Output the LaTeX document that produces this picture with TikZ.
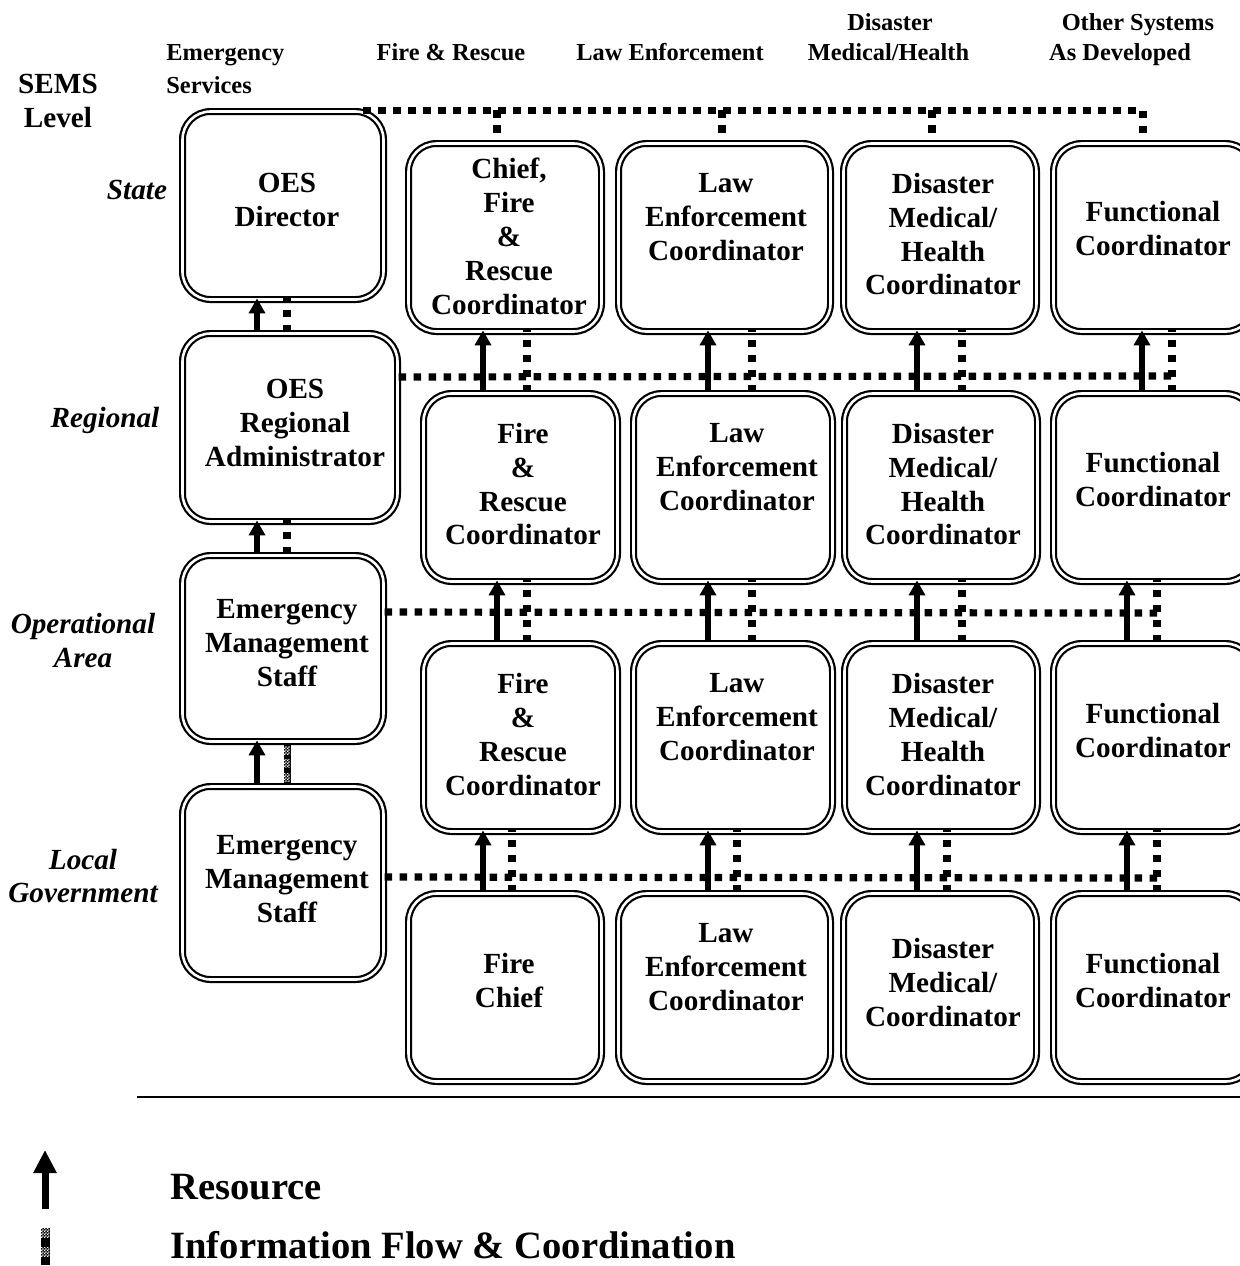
\documentclass[tikz,border=0pt]{standalone}
\usepackage{fontspec}
\setmainfont{Liberation Serif}
\usetikzlibrary{arrows.meta,calc,patterns}
\pgfdeclarepatternformonly{finechk}{\pgfpointorigin}{\pgfqpoint{1.6pt}{1.6pt}}{\pgfqpoint{1.6pt}{1.6pt}}{%
  \pgfpathrectangle{\pgfpointorigin}{\pgfqpoint{0.8pt}{0.8pt}}%
  \pgfpathrectangle{\pgfqpoint{0.8pt}{0.8pt}}{\pgfqpoint{0.8pt}{0.8pt}}%
  \pgfusepath{fill}}
\begin{document}
\begin{tikzpicture}[x=0.5pt,y=-0.5pt,
  bx/.style 2 args={draw, double, line width=1.1pt, double distance=1.3pt, rounded corners=14pt, inner sep=0pt, minimum width=#1, minimum height=#2},
  bt/.style={align=center, font=\fontsize{14.6}{17}\selectfont\bfseries, inner sep=0pt},
  hd/.style={anchor=base, font=\fontsize{12.2}{15}\selectfont\bfseries, inner sep=0pt},
  rl/.style={anchor=base, font=\fontsize{14.6}{17}\selectfont\bfseries\itshape, inner sep=0pt},
  lg/.style={anchor=west, font=\fontsize{19.3}{23}\selectfont\bfseries, inner sep=0pt},
  info/.style={line width=3.6pt, dash pattern=on 3.75pt off 3.75pt},
  res/.style={line width=2.75pt, -{Triangle[width=8pt,length=7.5pt]}},
  chk/.style={pattern=finechk, pattern color=white},
]
\clip (0,0) rectangle (1240,1266);
\fill[white] (0,0) rectangle (1240,1266);

% ---------- headers ----------
\node[hd, font=\fontsize{14.6}{17}\selectfont\bfseries] (h0a) at (58,93) {SEMS};
\node[hd, font=\fontsize{14.6}{17}\selectfont\bfseries] (h0b) at (58,127) {Level};
\node[hd, anchor=base west] (h1a) at (166,60) {Emergency};
\node[hd, anchor=base west] (h1b) at (166,93) {Services};
\node[hd] (h2) at (451,60) {Fire \& Rescue};
\node[hd] (h3) at (670,60) {Law Enforcement};
\node[hd] (h4a) at (890,30) {Disaster};
\node[hd] (h4b) at (888.5,60) {Medical/Health};
\node[hd] (h5a) at (1138,30) {Other Systems};
\node[hd] (h5b) at (1120,60) {As Developed};

% ---------- row labels ----------
\node[rl] (lbS) at (137,199.5) {State};
\node[rl] (lbR) at (105,427.5) {Regional};
\node[rl] (lbO1) at (83,633.5) {Operational};
\node[rl] (lbO2) at (83,667.5) {Area};
\node[rl] (lbL1) at (83,869.5) {Local};
\node[rl] (lbL2) at (83,902.5) {Government};

% ---------- boxes ----------
\node[bx={100.5pt}{94pt}] (d0) at (283,205.5) {};
\node[bx={107.5pt}{94pt}] (g0) at (290,427.5) {};
\node[bx={100.5pt}{93pt}] (o0) at (283,648.5) {};
\node[bx={100.5pt}{96.5pt}] (l0) at (283,883) {};

\node[bx={96.5pt}{94pt}] (s1) at (505,237.5) {};
\node[bx={106pt}{94pt}] (s2) at (724.5,237.5) {};
\node[bx={96.5pt}{94pt}] (s3) at (940,237.5) {};
\node[bx={100pt}{94pt}] (s4) at (1153.5,237.5) {};

\node[bx={97pt}{94pt}] (r1) at (520.5,487.5) {};
\node[bx={99.5pt}{94pt}] (r2) at (733,487.5) {};
\node[bx={96.5pt}{94pt}] (r3) at (941,487.5) {};
\node[bx={100pt}{94pt}] (r4) at (1153.5,487.5) {};

\node[bx={97pt}{94pt}] (p1) at (520.5,737.5) {};
\node[bx={99.5pt}{94pt}] (p2) at (733,737.5) {};
\node[bx={96.5pt}{94pt}] (p3) at (941,737.5) {};
\node[bx={100pt}{94pt}] (p4) at (1153.5,737.5) {};

\node[bx={96.5pt}{94pt}] (f1) at (505,987.5) {};
\node[bx={106pt}{94pt}] (f2) at (724.5,987.5) {};
\node[bx={96.5pt}{94pt}] (f3) at (940,987.5) {};
\node[bx={100pt}{94pt}] (f4) at (1153.5,987.5) {};

% ---------- box texts ----------
\node[bt] (d0t) at (287,200) {OES\\Director};
\node[bt] (g0t) at (295,422.5) {OES\\Regional\\Administrator};
\node[bt] (o0t) at (287,643) {Emergency\\Management\\Staff};
\node[bt] (l0t) at (287,879) {Emergency\\Management\\Staff};

\node[bt] (s1t) at (509,236) {Chief,\\Fire\\\&\\Rescue\\Coordinator};
\node[bt] (s2t) at (726,217) {Law\\Enforcement\\Coordinator};
\node[bt] (s3t) at (943,234) {Disaster\\Medical/\\Health\\Coordinator};
\node[bt] (s4t) at (1153,229) {Functional\\Coordinator};

\node[bt] (r1t) at (523,484) {Fire\\\&\\Rescue\\Coordinator};
\node[bt] (r2t) at (737,467) {Law\\Enforcement\\Coordinator};
\node[bt] (r3t) at (943,484) {Disaster\\Medical/\\Health\\Coordinator};
\node[bt] (r4t) at (1153,479.5) {Functional\\Coordinator};

\node[bt] (p1t) at (523,734.5) {Fire\\\&\\Rescue\\Coordinator};
\node[bt] (p2t) at (737,717) {Law\\Enforcement\\Coordinator};
\node[bt] (p3t) at (943,734.5) {Disaster\\Medical/\\Health\\Coordinator};
\node[bt] (p4t) at (1153,730) {Functional\\Coordinator};

\node[bt] (f1t) at (509,980) {Fire\\Chief};
\node[bt] (f2t) at (726,967.5) {Law\\Enforcement\\Coordinator};
\node[bt] (f3t) at (943,982.5) {Disaster\\Medical/\\Coordinator};
\node[bt] (f4t) at (1153,980) {Functional\\Coordinator};

% ---------- information flow (dotted) ----------
% state level bus
\draw[info] ($(d0.north east)+(-21.5,0)$) -- ($(s4.north)+(-10.5,-32)$) -- ($(s4.north)+(-10.5,0)$);
\draw[info] ($(s1.north)+(-8,-32)$) -- ($(s1.north)+(-8,0)$);
\draw[info] ($(s2.north)+(-2.5,-32)$) -- ($(s2.north)+(-2.5,0)$);
\draw[info] ($(s3.north)+(-8,-32)$) -- ($(s3.north)+(-8,0)$);
% regional bus
\draw[info] ($(g0.east)+(0,-50.5)$) -- ($(r4.north)+(18.5,-16.5)$);
\draw[info] (r1.north) ++(6.5,0) -- ++(0,-62);
\draw[info] (r2.north) ++(19,0) -- ++(0,-62);
\draw[info] (r3.north) ++(21,0) -- ++(0,-62);
\draw[info] (r4.north) ++(18.5,0) -- ++(0,-62);
\draw[info] (g0.north) ++(-3,0) -- ++(0,-34);
% operational bus
\draw[info] ($(o0.east)+(0,-36.5)$) -- ($(r4.south)+(3.5,30.5)$);
\draw[info] (p1.north) ++(6.5,0) -- ++(0,-62);
\draw[info] (p2.north) ++(19,0) -- ++(0,-62);
\draw[info] (p3.north) ++(21,0) -- ++(0,-62);
\draw[info] (p4.north) ++(3.5,0) -- ++(0,-62);
\draw[info] (o0.north) ++(4,0) -- ++(0,-34);
% local bus
\draw[info] ($(l0.east)+(0,-6)$) -- ($(p4.south)+(3.5,45.5)$);
\draw[info] (f1.north) ++(7,0) -- ++(0,-62);
\draw[info] (f2.north) ++(12.5,0) -- ++(0,-62);
\draw[info] (f3.north) ++(7,0) -- ++(0,-62);
\draw[info] (f4.north) ++(3.5,0) -- ++(0,-62);
% checkered link local -> operational area
\path (o0.south) ++(4,0) coordinate (ck1);
\path (l0.north) ++(4,0) coordinate (ck2);
\draw[line width=3.5pt] (ck1) -- (ck2);
\fill[chk] ($(ck1)+(-3,4)$) rectangle ++(6,8);
\fill[chk] ($(ck1)+(-3,17)$) rectangle ++(6,8);
\fill[chk] ($(ck1)+(-3,31)$) rectangle ++(6,8);

% ---------- resource arrows ----------
\draw[res] (g0.north) ++(-33,0) -- ++(0,-34);
\draw[res] (r1.north) ++(-37.5,0) -- ++(0,-62);
\draw[res] (r2.north) ++(-25,0) -- ++(0,-62);
\draw[res] (r3.north) ++(-24,0) -- ++(0,-62);
\draw[res] (r4.north) ++(-11.5,0) -- ++(0,-62);

\draw[res] (o0.north) ++(-26,0) -- ++(0,-34);
\draw[res] (p1.north) ++(-23.5,0) -- ++(0,-62);
\draw[res] (p2.north) ++(-25,0) -- ++(0,-62);
\draw[res] (p3.north) ++(-24,0) -- ++(0,-62);
\draw[res] (p4.north) ++(-26.5,0) -- ++(0,-62);

\draw[res] (l0.north) ++(-26,0) -- ++(0,-45);
\draw[res] (f1.north) ++(-22,0) -- ++(0,-62);
\draw[res] (f2.north) ++(-16.5,0) -- ++(0,-62);
\draw[res] (f3.north) ++(-23,0) -- ++(0,-62);
\draw[res] (f4.north) ++(-26.5,0) -- ++(0,-62);

% ---------- separator ----------
\coordinate (sepL) at (137,1097);
\coordinate (sepR) at (1240,1097);
\draw[line width=1.2pt] (sepL) -- (sepR);

% ---------- legend ----------
\coordinate (la1) at (45,1209);
\coordinate (la2) at (45,1150);
\draw[line width=3.5pt, -{Triangle[width=11pt,length=11.5pt]}] (la1) -- (la2);
\coordinate (lc1) at (45,1228);
\coordinate (lc2) at (45,1265);
\draw[line width=4.5pt] (lc1) -- (lc2);
\fill[chk] ($(lc1)+(-4.5,0)$) rectangle ++(9,9);
\fill[chk] ($(lc1)+(-4.5,19)$) rectangle ++(9,9);
\node[lg] (lg1) at (170,1187) {Resource};
\node[lg] (lg2) at (170,1245) {Information Flow \& Coordination};
\end{tikzpicture}
\end{document}
